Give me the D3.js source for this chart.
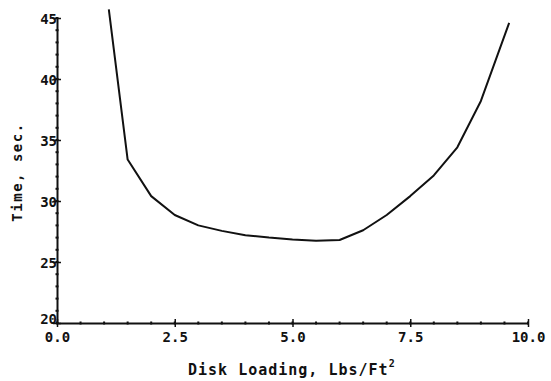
<!DOCTYPE html>
<html>
<head>
<meta charset="utf-8">
<script src="https://cdn.jsdelivr.net/npm/d3@7"></script>
<style>
  body { margin: 0; background: #fff; }
  svg { display: block; }
  text { font-family: "DejaVu Sans Mono", monospace; font-weight: bold; fill: #111; }
</style>
</head>
<body>
<div id="chart"></div>
<script>
// Time vs disk loading
const diskLoading = [1.1, 1.5, 2.0, 2.5, 3.0, 3.5, 4.0, 4.5, 5.0, 5.5, 6.0, 6.5, 7.0, 7.5, 8.0, 8.5, 9.0, 9.6];
const timeSec = [45.7, 33.4, 30.4, 28.85, 28.0, 27.55, 27.2, 27.0, 26.85, 26.75, 26.8, 27.6, 28.85, 30.4, 32.1, 34.4, 38.2, 44.6];
const xTicks = [0, 2.5, 5, 7.5, 10];
const xTickLabels = ["0.0", "2.5", "5.0", "7.5", "10.0"];
const yTicks = [20, 25, 30, 35, 40, 45];
const xMinorStep = 0.5;
const yMinorStep = 1;

const width = 551, height = 381;
const margin = {top: 18, right: 23, bottom: 58, left: 57};
const innerW = width - margin.left - margin.right;
const innerH = height - margin.top - margin.bottom;

const svg = d3.select("#chart").append("svg")
  .attr("width", width)
  .attr("height", height);

const g = svg.append("g")
  .attr("transform", `translate(${margin.left},${margin.top})`);

const x = d3.scaleLinear().domain([0, 10]).range([0, innerW]);
const y = d3.scaleLinear().domain([20, 45]).range([innerH, 0]);

// minor tick dots
const xMinor = d3.range(0, 10 + 1e-9, xMinorStep);
const yMinor = d3.range(20, 45 + 1e-9, yMinorStep);

g.selectAll(".xminor").data(xMinor).enter().append("line")
  .attr("x1", d => x(d)).attr("x2", d => x(d))
  .attr("y1", innerH - 1.5).attr("y2", innerH + 1.5)
  .attr("stroke", "#111").attr("stroke-width", 2);

g.selectAll(".yminor").data(yMinor).enter().append("line")
  .attr("y1", d => y(d)).attr("y2", d => y(d))
  .attr("x1", -1.5).attr("x2", 1.5)
  .attr("stroke", "#111").attr("stroke-width", 2);

// x axis
const xAxis = d3.axisBottom(x)
  .tickValues(xTicks)
  .tickFormat((d, i) => xTickLabels[i])
  .tickSize(0);
const xg = g.append("g").attr("transform", `translate(0,${innerH})`).call(xAxis);
xg.select(".domain").attr("stroke", "#111").attr("stroke-width", 2);
xg.selectAll("text").attr("dy", 0).attr("y", 19).style("font-size", "14px");
xg.selectAll(".tick").append("line")
  .attr("y1", -4).attr("y2", 4)
  .attr("stroke", "#111").attr("stroke-width", 1.5);

// y axis
const yAxis = d3.axisLeft(y)
  .tickValues(yTicks)
  .tickFormat(d3.format("d"))
  .tickSize(0);
const yg = g.append("g").call(yAxis);
yg.select(".domain").attr("stroke", "#111").attr("stroke-width", 2);
yg.selectAll("text")
  .attr("x", 0)
  .attr("dy", d => d === 20 ? "0.05em" : "0.38em")
  .style("font-size", "14px");
yg.selectAll(".tick").append("line")
  .attr("x1", -4).attr("x2", 4)
  .attr("stroke", "#111").attr("stroke-width", 1.5);

// curve
const line = d3.line()
  .x((d, i) => x(diskLoading[i]))
  .y(d => y(d));

g.append("path")
  .datum(timeSec)
  .attr("d", line)
  .attr("fill", "none")
  .attr("stroke", "#111")
  .attr("stroke-width", 2)
  .attr("stroke-linejoin", "round");

// axis titles
const xt = svg.append("text")
  .attr("x", 188)
  .attr("y", 375)
  .style("font-size", "15px")
  .style("letter-spacing", "1px");
xt.append("tspan").text("Disk Loading, Lbs/Ft");
xt.append("tspan").attr("dy", -8).style("font-size", "10px").text("2");

svg.append("text")
  .attr("transform", "translate(22,172) rotate(-90)")
  .attr("text-anchor", "middle")
  .style("font-size", "14px")
  .style("letter-spacing", "1.5px")
  .text("Time, sec.");
</script>
</body>
</html>
